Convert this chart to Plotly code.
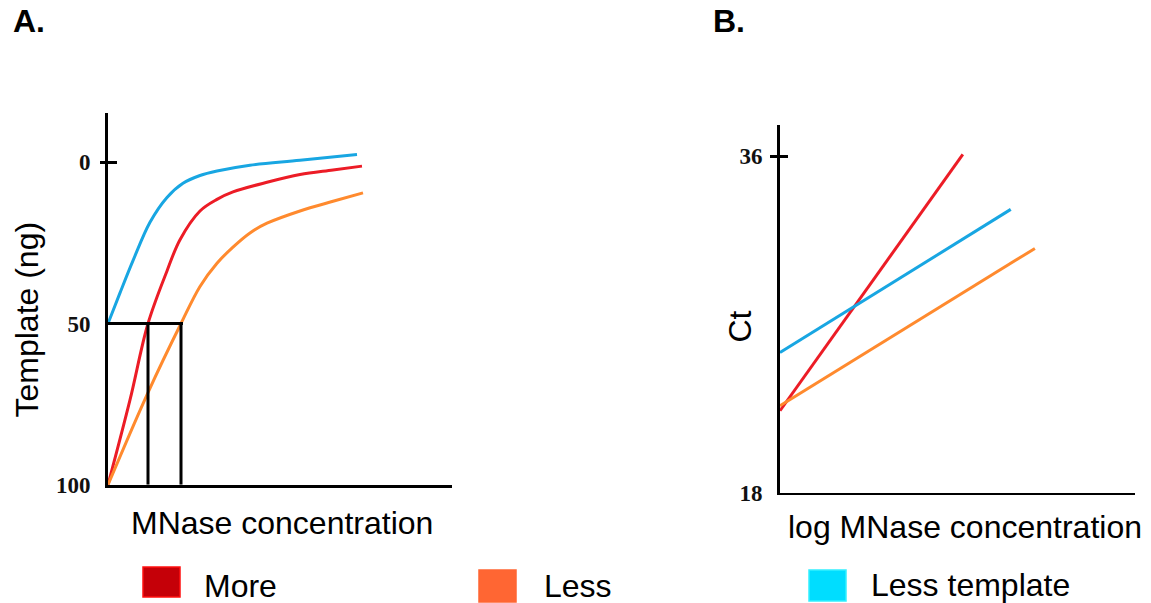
import plotly.graph_objects as go

W = 1151
H_OUT = 603          # target picture height
H_LAYOUT = 617       # the page picture is squeezed vertically by ~603/617

# ---------------- Panel A data (Template (ng) vs MNase concentration) ----------------
a_blue_x = [0, 0.3, 0.625, 1.05, 1.475, 1.875, 2.3, 2.725, 3.55, 4.8, 6.225]
a_blue_y = [50, 40.5, 30.5, 18.6, 10.9, 6.5, 4.1, 2.7, 0.9, -0.6, -2.4]
a_red_x = [0, 0.55, 1.0, 1.475, 1.8, 2.3, 2.725, 3.125, 3.975, 4.8, 5.625, 6.35]
a_red_y = [100, 73.7, 50, 33.7, 24.0, 15.1, 11.5, 9.2, 6.2, 3.8, 2.4, 1.2]
a_orange_x = [0, 1.0, 1.825, 2.3, 2.725, 3.125, 3.55, 3.975, 4.8, 5.625, 6.375]
a_orange_y = [100, 71.4, 50, 38.5, 31.3, 26.3, 21.9, 18.9, 15.1, 12.1, 9.5]
a_ticks = [0, 50, 100]
a_half = 50
a_full = 100

# ---------------- Panel B data (Ct vs log MNase concentration) ----------------
b_red_x = [0, 5.15]
b_red_y = [22.39, 36.1]
b_blue_x = [0, 6.5]
b_blue_y = [25.5, 33.16]
b_orange_x = [0, 7.18]
b_orange_y = [22.66, 31.07]
b_ticks = [18, 36]

# legend
legend_names = ["More", "Less", "Less template"]
legend_fill = ["#C50008", "#FF6633", "#00DDFF"]
legend_line = ["#FF1010", "#FF6633", "#33F0FF"]

RED, ORANGE, BLUE = "#EC1C26", "#FF8A2E", "#18A6E2"


def px_x(p):
    return p / W


def px_y(p):
    # p is a pixel row of the final picture
    return 1 - p / H_OUT


fig = go.Figure()

# --- panel A curves ---
for xs, ys, c in [(a_blue_x, a_blue_y, BLUE), (a_red_x, a_red_y, RED), (a_orange_x, a_orange_y, ORANGE)]:
    fig.add_trace(go.Scatter(x=xs, y=ys, mode="lines", line=dict(color=c, width=3, shape="spline", smoothing=1.0),
                             xaxis="x", yaxis="y", showlegend=False, hoverinfo="skip"))

# reference lines at 50 (derived from the curves)
red_x50 = a_red_x[a_red_y.index(a_half)]
orange_x50 = a_orange_x[a_orange_y.index(a_half)]
fig.add_trace(go.Scatter(x=[0, orange_x50 + 0.05], y=[a_half, a_half], mode="lines",
                         line=dict(color="black", width=3), xaxis="x", yaxis="y", showlegend=False, hoverinfo="skip"))
for xv in [red_x50, orange_x50]:
    fig.add_trace(go.Scatter(x=[xv, xv], y=[a_half, a_full], mode="lines",
                             line=dict(color="black", width=3), xaxis="x", yaxis="y", showlegend=False,
                             hoverinfo="skip", cliponaxis=False))

# invisible trace for overlay tick axis
fig.add_trace(go.Scatter(x=[0], y=[0], mode="markers", marker=dict(opacity=0), xaxis="x", yaxis="y3",
                         showlegend=False, hoverinfo="skip"))

# --- panel B lines ---
for xs, ys, c in [(b_red_x, b_red_y, RED), (b_blue_x, b_blue_y, BLUE), (b_orange_x, b_orange_y, ORANGE)]:
    fig.add_trace(go.Scatter(x=xs, y=ys, mode="lines", line=dict(color=c, width=3),
                             xaxis="x2", yaxis="y2", showlegend=False, hoverinfo="skip"))
fig.add_trace(go.Scatter(x=[0], y=[18], mode="markers", marker=dict(opacity=0), xaxis="x2", yaxis="y4",
                         showlegend=False, hoverinfo="skip"))

tickfont = dict(family="Liberation Serif", size=23, color="#111111", weight="bold")

# Panel A axes: 0 -> 162px, 100 -> 484px
a_top_px, a_bot_px = 113, 484
a_scale = (484 - 162) / 100.0
a_yrange = [100, -(162 - a_top_px) / a_scale]

# Panel B axes: 18 -> 492px, 36 -> 156px
b_top_px, b_bot_px = 125, 492
b_scale = (492 - 156) / 18.0
b_yrange = [18, 18 + (b_bot_px - b_top_px) / b_scale]

fig.update_layout(
    width=W, height=H_LAYOUT,
    margin=dict(l=0, r=0, t=0, b=0),
    paper_bgcolor="white", plot_bgcolor="white",
    showlegend=False,
    xaxis=dict(domain=[px_x(108), px_x(452)], range=[0, 8.6], showline=True, linecolor="black", linewidth=3,
               showticklabels=False, ticks="", showgrid=False, zeroline=False, anchor="y"),
    yaxis=dict(domain=[px_y(a_bot_px), px_y(a_top_px)], range=a_yrange, showline=True, linecolor="black",
               linewidth=3, tickvals=a_ticks, ticks="", tickfont=tickfont, ticklabelstandoff=10,
               showgrid=False, zeroline=False, anchor="x"),
    yaxis3=dict(overlaying="y", anchor="free", position=px_x(117), side="left", range=a_yrange,
                tickvals=[a_ticks[0]], ticks="outside", ticklen=17, tickwidth=3, tickcolor="black",
                showticklabels=False, showline=False, showgrid=False, zeroline=False),
    xaxis2=dict(domain=[px_x(780), px_x(1135)], range=[0, 10], showline=True, linecolor="black", linewidth=2,
                showticklabels=False, ticks="", showgrid=False, zeroline=False, anchor="y2"),
    yaxis2=dict(domain=[px_y(b_bot_px), px_y(b_top_px)], range=b_yrange, showline=True, linecolor="black",
                linewidth=3, tickvals=b_ticks, ticks="inside", ticklen=8, tickwidth=3, tickcolor="black",
                tickfont=tickfont, ticklabelstandoff=10, showgrid=False, zeroline=False, anchor="x2"),
    yaxis4=dict(overlaying="y2", anchor="free", position=px_x(780), side="left", range=b_yrange,
                tickvals=[b_ticks[1]], ticks="outside", ticklen=10, tickwidth=3, tickcolor="black",
                showticklabels=False, showline=False, showgrid=False, zeroline=False),
)

sans = "Arial, Liberation Sans, sans-serif"
FS = 32
ann = [
    dict(text="<b>A.</b>", x=px_x(29), y=px_y(21), font=dict(family=sans, size=FS, color="black")),
    dict(text="<b>B.</b>", x=px_x(729), y=px_y(21), font=dict(family=sans, size=FS, color="black")),
    dict(text="Template (ng)", x=px_x(27), y=px_y(319), textangle=-90, font=dict(family=sans, size=FS, color="black")),
    dict(text="MNase concentration", x=px_x(282), y=px_y(522), font=dict(family=sans, size=FS, color="black")),
    dict(text="Ct", x=px_x(740), y=px_y(326), textangle=-90, font=dict(family=sans, size=FS, color="black")),
    dict(text="log MNase concentration", x=px_x(965), y=px_y(526), font=dict(family=sans, size=FS, color="black")),
]
for a in ann:
    a.update(xref="paper", yref="paper", xanchor="center", yanchor="middle", showarrow=False)
    fig.add_annotation(**a)

# legend boxes and labels (layout positions, in picture pixels)
leg_box = [(143, 566, 180, 596), (479, 569, 516, 601), (809, 569, 846, 600)]
leg_text = [(202, 585), (542, 585), (869, 584)]
for name, fc, lc, (x0, y0, x1, y1), (tx, ty) in zip(legend_names, legend_fill, legend_line, leg_box, leg_text):
    fig.add_shape(type="rect", xref="paper", yref="paper", x0=px_x(x0), x1=px_x(x1), y0=px_y(y1), y1=px_y(y0),
                  fillcolor=fc, line=dict(color=lc, width=1.5))
    fig.add_annotation(text=name, xref="paper", yref="paper", x=px_x(tx), y=px_y(ty), xanchor="left",
                       yanchor="middle", showarrow=False, font=dict(family=sans, size=FS, color="black"))

fig.write_html("out.html")
